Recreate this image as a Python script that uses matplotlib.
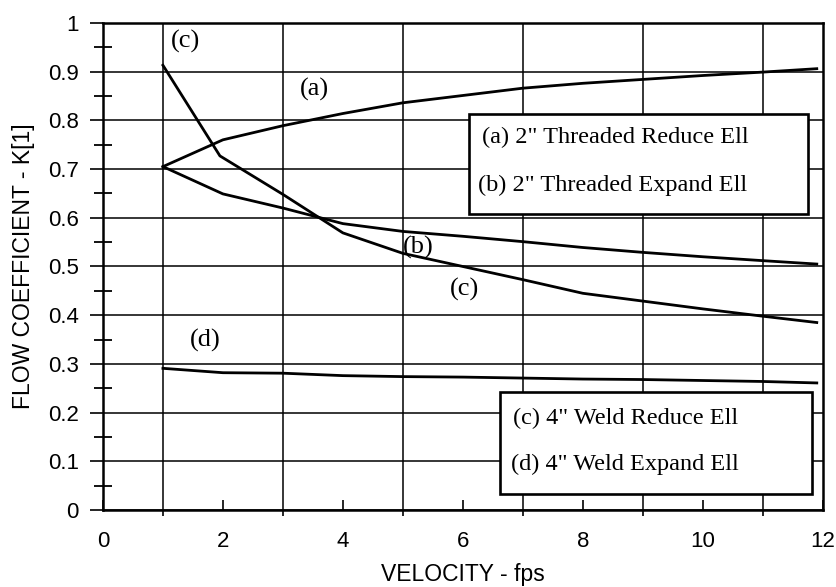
import matplotlib
matplotlib.use("Agg")
import matplotlib.pyplot as plt
from matplotlib.patches import Rectangle
from matplotlib.ticker import FixedLocator, FuncFormatter

plt.rcParams['font.family'] = ['Liberation Sans', 'DejaVu Sans']

# curve data
x_a = [1, 2, 3, 4, 5, 6, 7, 8, 9, 10, 11, 11.9]
k_a = [0.705, 0.760, 0.789, 0.814, 0.836, 0.851, 0.866, 0.876, 0.884, 0.892, 0.899, 0.906]

x_b = [1, 2, 3, 4, 5, 6, 7, 8, 9, 10, 11, 11.9]
k_b = [0.705, 0.649, 0.620, 0.588, 0.572, 0.562, 0.551, 0.539, 0.529, 0.520, 0.512, 0.505]

x_c = [1, 1.95, 3, 4, 5, 6, 7, 8, 9, 10, 11, 11.9]
k_c = [0.913, 0.727, 0.648, 0.569, 0.527, 0.500, 0.473, 0.445, 0.429, 0.413, 0.398, 0.385]

x_d = [1, 2, 3, 4, 5, 6, 7, 8, 9, 10, 11, 11.9]
k_d = [0.291, 0.282, 0.281, 0.276, 0.274, 0.273, 0.271, 0.269, 0.268, 0.266, 0.264, 0.261]

curve_labels = ['(c)', '(a)', '(b)', '(c)', '(d)']
curve_label_x = [1.37, 3.52, 5.25, 6.03, 1.70]
curve_label_y = [0.962, 0.864, 0.540, 0.452, 0.349]

legend_top = ['(a) 2" Threaded Reduce Ell', '(b) 2" Threaded Expand Ell']
legend_bottom = ['(c) 4" Weld Reduce Ell', '(d) 4" Weld Expand Ell']

fig = plt.figure(figsize=(8.37, 5.87), dpi=100)
ax = fig.add_axes([0.123, 0.131, 0.860, 0.830])

for xs, ks in [(x_a, k_a), (x_b, k_b), (x_c, k_c), (x_d, k_d)]:
    ax.plot(xs, ks, color='black', linewidth=2.0, zorder=3)

ax.set_xlim(0, 12)
ax.set_ylim(0, 1)

# x: labelled even ticks pointing in, grid on odd values
ax.xaxis.set_major_locator(FixedLocator([0, 2, 4, 6, 8, 10, 12]))
ax.xaxis.set_minor_locator(FixedLocator([1, 3, 5, 7, 9, 11]))
ax.tick_params(axis='x', which='major', direction='in', length=7.5, width=1.2,
               pad=15, labelsize=16)
ax.tick_params(axis='x', which='minor', direction='out', length=4.5, width=1.2)

# y: grid every 0.1, crossing minor ticks in between
ax.yaxis.set_major_locator(FixedLocator([i / 10 for i in range(11)]))
ax.yaxis.set_minor_locator(FixedLocator([0.05 + i / 10 for i in range(10)]))
ax.yaxis.set_major_formatter(FuncFormatter(lambda v, p: '%g' % round(v, 2)))
ax.tick_params(axis='y', which='major', direction='out', length=9.5, width=1.2,
               pad=8, labelsize=16)
ax.tick_params(axis='y', which='minor', direction='inout', length=13, width=1.3)

ax.grid(True, which='minor', axis='x', color='black', linewidth=1.1)
ax.grid(True, which='major', axis='y', color='black', linewidth=1.1)
ax.set_axisbelow(True)
for s in ax.spines.values():
    s.set_linewidth(1.8)

ax.set_xlabel('VELOCITY - fps', fontsize=16.5, labelpad=8)
ax.set_ylabel('FLOW COEFFICIENT - K[1]', fontsize=16.5, labelpad=9)

serif = ['Liberation Serif', 'DejaVu Serif']
for t, lx, ly in zip(curve_labels, curve_label_x, curve_label_y):
    ax.text(lx, ly, t, ha='center', va='center', fontsize=19, family=serif, zorder=4)

# legend boxes
ax.add_patch(Rectangle((6.10, 0.608), 5.65, 0.205, facecolor='white',
                       edgecolor='black', linewidth=1.9, zorder=5))
ax.text(6.32, 0.764, legend_top[0], ha='left', va='center', fontsize=17.5, family=serif, zorder=6)
ax.text(6.25, 0.667, legend_top[1], ha='left', va='center', fontsize=17.5, family=serif, zorder=6)

ax.add_patch(Rectangle((6.62, 0.033), 5.20, 0.209, facecolor='white',
                       edgecolor='black', linewidth=1.9, zorder=5))
ax.text(6.83, 0.189, legend_bottom[0], ha='left', va='center', fontsize=17.5, family=serif, zorder=6)
ax.text(6.80, 0.094, legend_bottom[1], ha='left', va='center', fontsize=17.5, family=serif, zorder=6)

fig.savefig('out.png', dpi=100)
